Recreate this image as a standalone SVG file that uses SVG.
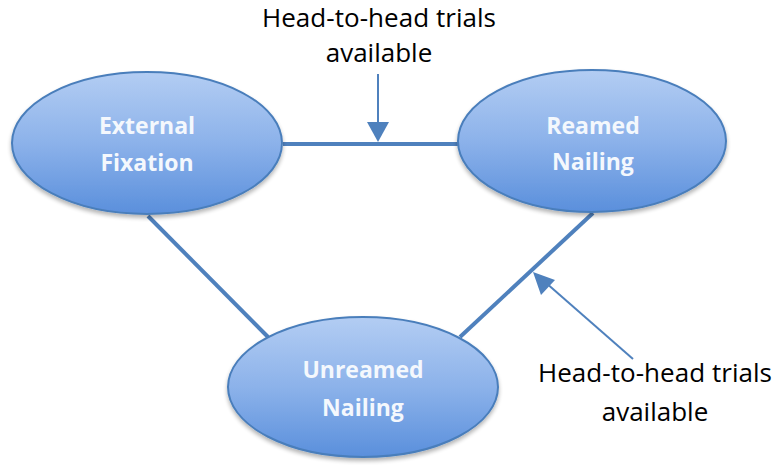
<svg xmlns="http://www.w3.org/2000/svg" width="774" height="471" viewBox="0 0 774 471">
<defs>
<linearGradient id="g" x1="0" y1="0" x2="0" y2="1">
<stop offset="0" stop-color="#b3cdf3"/>
<stop offset="0.5" stop-color="#8cb2ea"/>
<stop offset="1" stop-color="#5a8fdc"/>
</linearGradient>
<filter id="sh" x="-10%" y="-10%" width="120%" height="130%">
<feGaussianBlur in="SourceAlpha" stdDeviation="2"/>
<feOffset dy="3"/>
<feComponentTransfer><feFuncA type="linear" slope="0.3"/></feComponentTransfer>
<feMerge><feMergeNode/><feMergeNode in="SourceGraphic"/></feMerge>
</filter>
</defs>
<style>
.node{fill:url(#g);stroke:#4a7ebb;stroke-width:2;filter:url(#sh)}
.nt{font-family:"Open Sans","Liberation Sans",sans-serif;font-weight:bold;font-size:23px;fill:#f4f8fd;text-anchor:middle}
.lbl{font-family:"Open Sans","Liberation Sans",sans-serif;font-size:26px;fill:#000;text-anchor:middle}
.edge{stroke:#4f81bd;stroke-width:4;fill:none}
.arr{stroke:#4f81bd;stroke-width:2;fill:none}
.head{fill:#4f81bd}
</style>
<g id="connectors">
<line class="edge" x1="283" y1="144" x2="458" y2="144"/>
<line class="edge" x1="148" y1="216" x2="268" y2="337"/>
<line class="edge" x1="593" y1="213" x2="460" y2="337"/>
<line class="arr" x1="378" y1="74" x2="378" y2="124"/>
<path class="head" d="M367,122 L389,122 L378,142 z"/>
<line class="arr" x1="633" y1="359" x2="545" y2="282"/>
<path class="head" d="M533,272 L555,280 L541,295 z"/>
</g>
<g id="external-fixation">
<ellipse class="node" cx="147" cy="143" rx="135" ry="71"/>
<text class="nt" x="147" y="134">External</text>
<text class="nt" x="147" y="171">Fixation</text>
</g>
<g id="reamed-nailing">
<ellipse class="node" cx="592" cy="141" rx="134" ry="71"/>
<text class="nt" x="593" y="134">Reamed</text>
<text class="nt" x="593" y="170">Nailing</text>
</g>
<g id="unreamed-nailing">
<ellipse class="node" cx="363" cy="387" rx="135" ry="70"/>
<text class="nt" x="363" y="378">Unreamed</text>
<text class="nt" x="363" y="416">Nailing</text>
</g>
<g id="label-top">
<text class="lbl" x="379" y="27" font-size="25" textLength="234" lengthAdjust="spacing">Head-to-head trials</text>
<text class="lbl" x="379" y="62">available</text>
</g>
<g id="label-right">
<text class="lbl" x="655" y="382" textLength="234" lengthAdjust="spacing">Head-to-head trials</text>
<text class="lbl" x="655" y="421">available</text>
</g>
</svg>
